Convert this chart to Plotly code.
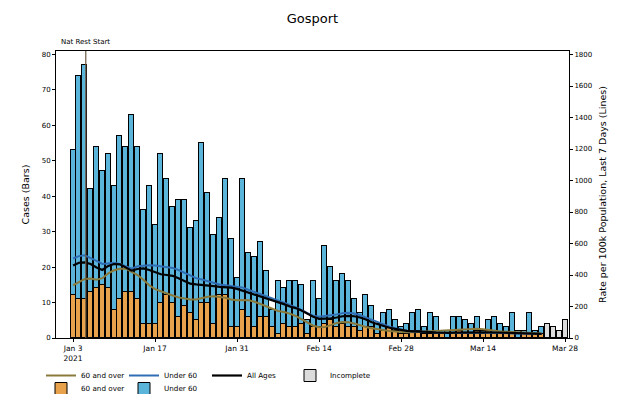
import pandas as pd
import plotly.graph_objects as go

# ---------------- data ----------------
start_date = "2021-01-03"
n_days = 85
dates = pd.date_range(start_date, periods=n_days, freq="D")

# complete days (Jan 3 .. Mar 24): stacked bars
over60_cases = [12, 11, 11, 13, 14, 15, 14, 8, 11, 13, 13, 11, 4, 4, 4, 10, 12, 10, 6, 9,
                7, 5, 10, 10, 4, 12, 12, 3, 3, 8, 6, 3, 6, 6, 3, 1, 4, 3, 3, 4,
                1, 3, 3, 4, 5, 3, 4, 3, 3, 2, 3, 3, 1, 2, 3, 2, 1, 1, 2, 2,
                1, 1, 1, 1, 0, 1, 2, 1, 1, 2, 1, 2, 1, 1, 1, 1, 0, 1, 1, 1, 1]
under60_cases = [41, 63, 66, 29, 40, 32, 38, 35, 46, 41, 50, 43, 32, 39, 28, 42, 33, 27, 33, 30,
                 24, 28, 45, 31, 25, 22, 33, 25, 14, 37, 18, 20, 21, 13, 5, 15, 10, 13, 13, 11,
                 4, 13, 8, 22, 15, 13, 14, 13, 8, 5, 9, 6, 3, 5, 5, 3, 2, 3, 5, 6,
                 2, 6, 5, 1, 2, 5, 4, 4, 3, 4, 1, 3, 5, 3, 2, 6, 2, 1, 6, 1, 2]
# incomplete days (Mar 25 .. Mar 28)
incomplete_cases = [4, 3, 2, 5]

# 7-day rates per 100k (right axis), Jan 3 .. Mar 24
rate_over60 = [335, 355, 375, 378, 370, 380, 410, 430, 440, 440, 420, 400, 370, 335, 310, 295,
               285, 270, 258, 250, 245, 245, 255, 262, 265, 262, 255, 245, 240, 242, 240, 230,
               215, 200, 185, 172, 165, 155, 140, 120, 95, 78, 68, 70, 82, 95, 102, 100,
               92, 80, 70, 62, 55, 50, 45, 42, 38, 36, 36, 38, 40, 42, 44, 46,
               48, 50, 52, 55, 60, 58, 55, 50, 45, 42, 40, 38, 36, 34, 32, 30, 28]
rate_under60 = [505, 520, 525, 510, 490, 470, 475, 478, 470, 455, 440, 455, 460, 462, 460, 455,
                452, 445, 432, 415, 395, 380, 372, 362, 350, 340, 335, 330, 325, 320, 305, 292,
                280, 268, 255, 240, 225, 210, 195, 178, 158, 142, 135, 138, 145, 150, 158, 160,
                155, 145, 130, 112, 98, 84, 72, 62, 52, 45, 42, 42, 40, 38, 35, 32,
                31, 32, 33, 33, 33, 34, 35, 34, 33, 32, 31, 30, 29, 28, 27, 26, 25]
rate_all = [460, 478, 480, 470, 448, 432, 458, 470, 468, 450, 428, 438, 442, 432, 418, 405,
            400, 395, 380, 360, 345, 340, 338, 335, 330, 325, 322, 320, 312, 300, 290, 280,
            265, 255, 240, 228, 215, 200, 190, 175, 155, 135, 122, 122, 125, 130, 138, 140,
            138, 130, 118, 100, 88, 75, 65, 58, 50, 45, 42, 42, 40, 38, 35, 32,
            32, 34, 35, 36, 36, 38, 38, 36, 35, 34, 32, 32, 30, 30, 28, 27, 26]

tick_dates = ["2021-01-03", "2021-01-17", "2021-01-31", "2021-02-14",
              "2021-02-28", "2021-03-14", "2021-03-28"]
tick_labels = ["Jan 3<br>2021", "Jan 17", "Jan 31", "Feb 14", "Feb 28", "Mar 14", "Mar 28"]
left_ticks = [0, 10, 20, 30, 40, 50, 60, 70, 80]
right_ticks = [0, 200, 400, 600, 800, 1000, 1200, 1400, 1600, 1800]
nat_rest_date = "2021-01-05 04:00"

# ---------------- figure ----------------
n_complete = len(over60_cases)
complete_dates = dates[:n_complete]
incomplete_dates = dates[n_complete:]
DAY_MS = 86400000
bar_w = 0.86 * DAY_MS

ORANGE = "#E8A24B"
BLUE = "#5BB5DA"
LINE60 = "#8a7a3c"
LINEU60 = "#2f6db5"
FONT = "DejaVu Sans"

fig = go.Figure()

# line legend entries first (row 1) ...
fig.add_trace(go.Scatter(x=complete_dates, y=rate_over60, yaxis="y2", mode="lines",
                         line=dict(color=LINE60, width=2), name="60 and over",
                         legend="legend"))
fig.add_trace(go.Scatter(x=complete_dates, y=rate_under60, yaxis="y2", mode="lines",
                         line=dict(color=LINEU60, width=2), name="Under 60",
                         legend="legend"))
fig.add_trace(go.Scatter(x=complete_dates, y=rate_all, yaxis="y2", mode="lines",
                         line=dict(color="black", width=2.2), name="All Ages",
                         legend="legend"))
fig.add_trace(go.Bar(x=incomplete_dates, y=incomplete_cases, width=bar_w,
                     marker=dict(color="#dcdcdc", line=dict(color="black", width=1)),
                     name="Incomplete", legend="legend"))
# stacked bars (row 2)
fig.add_trace(go.Bar(x=complete_dates, y=over60_cases, width=bar_w,
                     marker=dict(color=ORANGE, line=dict(color="black", width=1)),
                     name="60 and over", legend="legend2"))
fig.add_trace(go.Bar(x=complete_dates, y=under60_cases, width=bar_w,
                     marker=dict(color=BLUE, line=dict(color="black", width=1)),
                     name="Under 60", legend="legend2"))

W, H = 621, 394
L, R, T, B = 56, 52, 51, 56

legend_common = dict(orientation="h", xref="container", yref="container",
                     x=41 / W, xanchor="left", yanchor="top", traceorder="normal",
                     font=dict(size=7.2), entrywidth=38, entrywidthmode="pixels",
                     itemwidth=30, tracegroupgap=0, bgcolor="rgba(0,0,0,0)",
                     borderwidth=0)

fig.update_layout(
    width=W, height=H,
    margin=dict(l=L, r=R, t=T, b=B, autoexpand=False),
    paper_bgcolor="white", plot_bgcolor="white",
    barmode="stack", bargap=0,
    font=dict(family=FONT, size=7, color="black"),
    title=dict(text="Gosport", x=(L + (W - R)) / 2 / W, xanchor="center",
               y=1 - 18 / H, yanchor="middle",
               font=dict(family=FONT, size=13, color="black")),
    xaxis=dict(type="date", automargin=False,
               range=[pd.Timestamp("2021-01-03") - pd.Timedelta(hours=70),
                      pd.Timestamp("2021-03-28") + pd.Timedelta(hours=16)],
               tickvals=tick_dates, ticktext=tick_labels,
               ticks="outside", ticklen=3, tickcolor="black",
               showline=True, linecolor="black", linewidth=1, mirror=True,
               showgrid=False, zeroline=False,
               tickfont=dict(size=7.5)),
    yaxis=dict(range=[0, 81], tickvals=left_ticks, ticks="outside", ticklen=3,
               automargin=False,
               tickcolor="black", showline=True, linecolor="black", linewidth=1,
               mirror=True, showgrid=False, zeroline=False,
               title=dict(text="Cases (Bars)", font=dict(size=9.5, color="black"),
                          standoff=10),
               tickfont=dict(size=7)),
    yaxis2=dict(range=[0, 81 * 22.5], tickvals=right_ticks, overlaying="y", side="right",
                automargin=False,
                ticks="outside", ticklen=3, tickcolor="black", showline=False,
                showgrid=False, zeroline=False,
                title=dict(text="Rate per 100k Population, Last 7 Days (Lines)",
                           font=dict(size=9.5, color="black"), standoff=8),
                tickfont=dict(size=7)),
    legend=dict(y=1 - 361 / H, **legend_common),
    legend2=dict(y=1 - 374 / H, **legend_common),
)

fig.add_shape(type="line", xref="x", yref="paper", x0=nat_rest_date, x1=nat_rest_date,
              y0=0, y1=1, line=dict(color="#6b5a44", width=1.2))
fig.add_annotation(x=nat_rest_date, xref="x", y=1, yref="paper", yanchor="bottom",
                   text="Nat Rest Start", showarrow=False, yshift=3,
                   font=dict(size=7, color="black"))

fig.write_html("out.html", config={"displayModeBar": False},
               post_script="document.body.style.margin='0';document.body.style.padding='0';")
